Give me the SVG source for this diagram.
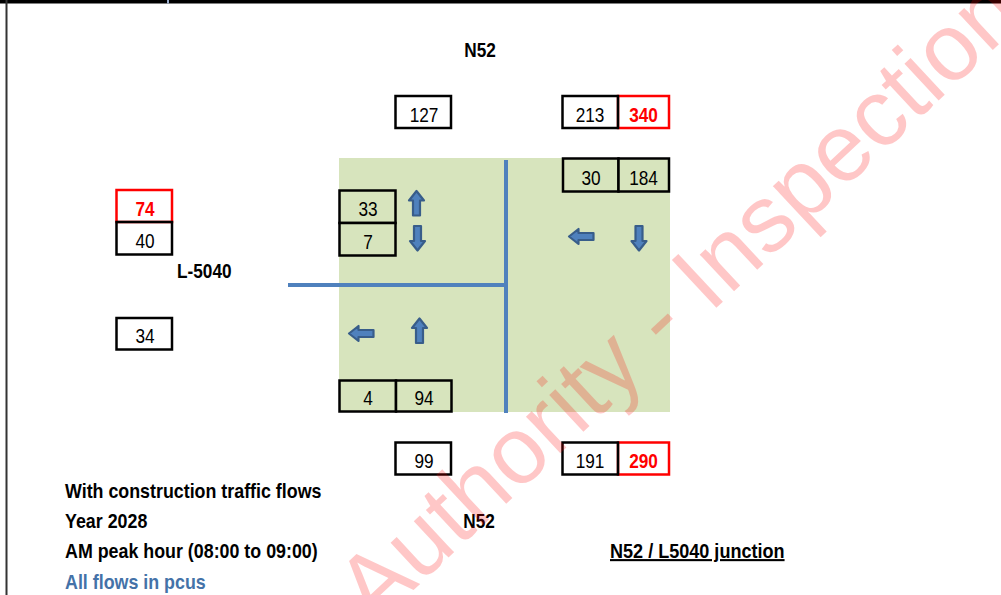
<svg xmlns="http://www.w3.org/2000/svg" width="1001" height="595" viewBox="0 0 1001 595">
<style>
.num{font-family:'Liberation Sans',Arial,sans-serif;font-size:21px;fill:#000;text-anchor:middle}
.red{fill:#ff0000;font-weight:bold}
.lbl{font-family:'Liberation Sans',Arial,sans-serif;font-size:21px;font-weight:bold;fill:#000}
.bk{fill:none;stroke:#000;stroke-width:2.5}
.rb{fill:none;stroke:#ff0000;stroke-width:2.5}
.gb{fill:#d7e4bd;stroke:#000;stroke-width:2.5}
.road{stroke:#4f81bd;stroke-width:4;fill:none}
.arr{fill:#4f81bd;stroke:#385d8a;stroke-width:2.2;stroke-linejoin:round}
</style>
<defs>
<path id="up" d="M0,-12.5 L7.5,-3 L3.5,-3 L3.5,12 L-3.5,12 L-3.5,-3 L-7.5,-3 Z"/>
</defs>
<rect x="0" y="0" width="1001" height="595" fill="#fff"/>
<rect x="0" y="0" width="1001" height="3.5" fill="#000"/>
<rect x="5.5" y="0" width="2" height="595" fill="#333"/>
<rect x="167" y="0" width="2" height="3.5" fill="#9db0d0"/>

<g id="junction">
<rect x="339" y="158" width="331" height="254" fill="#d7e4bd"/>
</g>
<g id="connectors">
<line class="road" x1="506" y1="160" x2="506" y2="413"/>
<line class="road" x1="288" y1="285" x2="506" y2="285"/>
</g>

<g id="n52-north-label"><text class="lbl" text-anchor="middle" transform="translate(480,57) scale(0.82,1)">N52</text></g>
<g id="north-out"><rect class="bk" x="395.5" y="96" width="55.5" height="32"/><text class="num" transform="translate(424,122) scale(0.82,1)">127</text></g>
<g id="north-in">
<rect class="rb" x="618" y="96" width="51" height="32"/>
<rect class="bk" x="562.5" y="96" width="55.5" height="32"/>
<text class="num" transform="translate(590,122) scale(0.82,1)">213</text>
<text class="num red" transform="translate(643.5,122) scale(0.82,1)">340</text>
</g>
<g id="south-approach-turns">
<rect class="gb" x="563" y="158.5" width="55.5" height="33"/>
<rect class="gb" x="618.5" y="158.5" width="50.5" height="33"/>
<text class="num" transform="translate(591,185) scale(0.82,1)">30</text>
<text class="num" transform="translate(643.5,185) scale(0.82,1)">184</text>
</g>
<g id="west-out">
<rect class="rb" x="116.5" y="190" width="55.5" height="32"/>
<rect class="bk" x="116.5" y="222" width="55.5" height="32.5"/>
<text class="num red" transform="translate(145,216) scale(0.82,1)">74</text>
<text class="num" transform="translate(145,248) scale(0.82,1)">40</text>
</g>
<g id="l5040-label"><text class="lbl" transform="translate(177,278) scale(0.82,1)">L-5040</text></g>
<g id="west-in"><rect class="bk" x="116.5" y="318" width="55.5" height="31.5"/><text class="num" transform="translate(145,343) scale(0.82,1)">34</text></g>
<g id="west-approach-turns">
<rect class="gb" x="339.5" y="190.5" width="56" height="32.5"/>
<rect class="gb" x="339.5" y="223" width="56" height="32.5"/>
<text class="num" transform="translate(368,216) scale(0.82,1)">33</text>
<text class="num" transform="translate(368,249) scale(0.82,1)">7</text>
</g>
<g id="north-approach-turns">
<rect class="gb" x="339.5" y="380.5" width="56.5" height="31"/>
<rect class="gb" x="396" y="380.5" width="55.5" height="31"/>
<text class="num" transform="translate(368,405) scale(0.82,1)">4</text>
<text class="num" transform="translate(424,405) scale(0.82,1)">94</text>
</g>
<g id="south-in"><rect class="bk" x="395.5" y="442.5" width="55.5" height="32"/><text class="num" transform="translate(424,468) scale(0.82,1)">99</text></g>
<g id="south-out">
<rect class="rb" x="618" y="442.5" width="51" height="32"/>
<rect class="bk" x="562.5" y="442.5" width="55.5" height="32"/>
<text class="num" transform="translate(590,468) scale(0.82,1)">191</text>
<text class="num red" transform="translate(643.5,468) scale(0.82,1)">290</text>
</g>

<g id="arrows">
<use href="#up" class="arr" transform="translate(416.5,203.5)"/>
<use href="#up" class="arr" transform="translate(417.5,238) rotate(180)"/>
<use href="#up" class="arr" transform="translate(361.5,333.5) rotate(-90)"/>
<use href="#up" class="arr" transform="translate(419.5,331)"/>
<use href="#up" class="arr" transform="translate(581.5,236.5) rotate(-90)"/>
<use href="#up" class="arr" transform="translate(639,238) rotate(180)"/>
</g>

<g id="notes">
<text class="lbl" transform="translate(65,498) scale(0.85,1)">With construction traffic flows</text>
<text class="lbl" transform="translate(65,528) scale(0.85,1)">Year 2028</text>
<text class="lbl" transform="translate(65,558) scale(0.85,1)">AM peak hour (08:00 to 09:00)</text>
<text class="lbl" transform="translate(65,589) scale(0.85,1)" style="fill:#4472a8">All flows in pcus</text>
</g>
<g id="n52-south-label"><text class="lbl" text-anchor="middle" transform="translate(479,528) scale(0.82,1)">N52</text></g>
<g id="title"><text class="lbl" transform="translate(610,558) scale(0.86,1)" text-decoration="underline">N52 / L5040 junction</text></g>

<g id="watermark">
<text x="0" y="0" transform="translate(374,627) rotate(-43)" font-family="'Liberation Sans',Arial,sans-serif" font-size="95" fill="#ff0000" fill-opacity="0.22">Authority - Inspection</text>
</g>
</svg>
